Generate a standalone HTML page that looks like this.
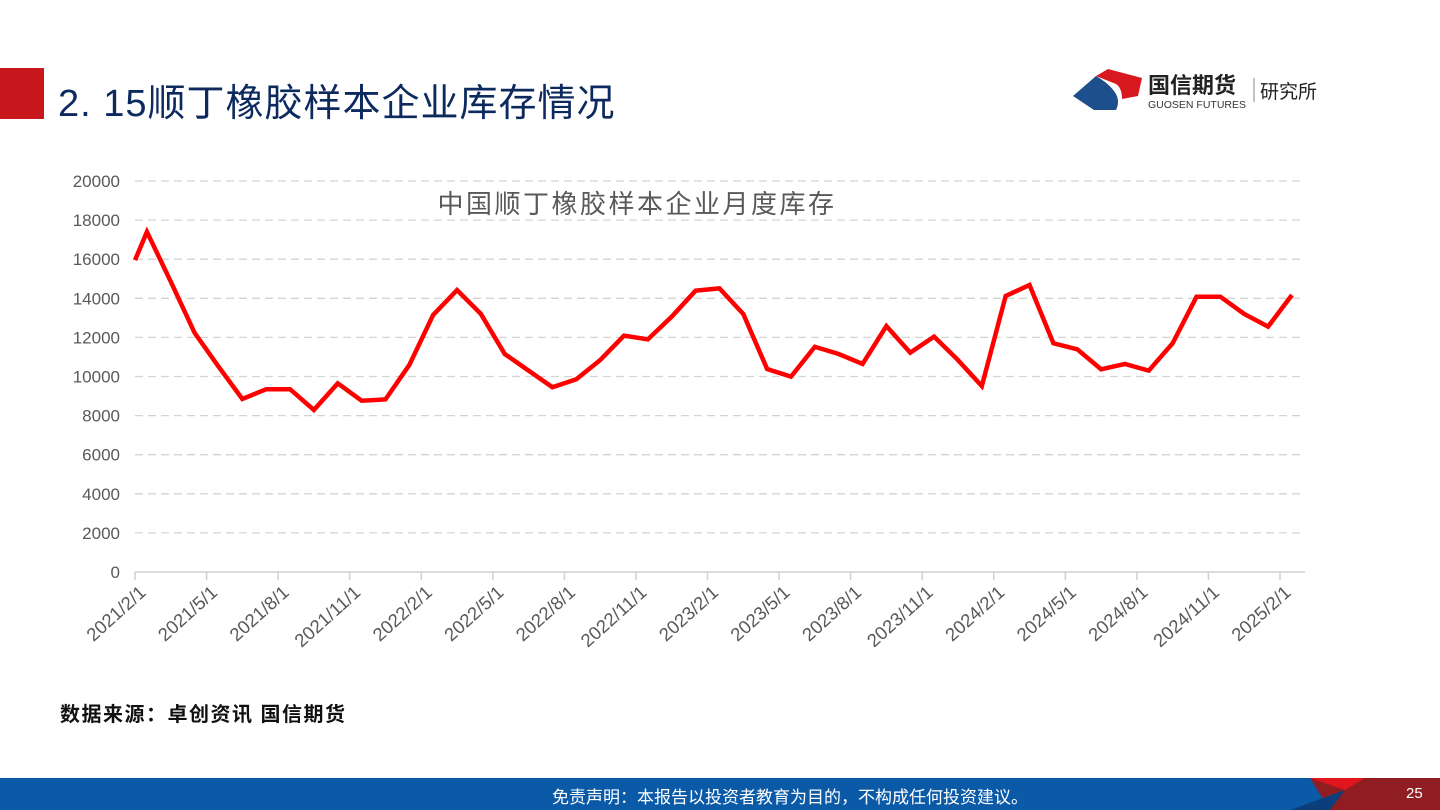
<!DOCTYPE html>
<html><head><meta charset="utf-8">
<style>
body{margin:0;width:1440px;height:810px;overflow:hidden;background:#fff;font-family:"Liberation Sans","Noto Sans CJK SC",sans-serif;position:relative}
.abs{position:absolute}
</style></head><body>
<div class="abs" style="left:0;top:68px;width:44px;height:51px;background:#c8161d"></div>
<div class="abs" style="left:58px;top:72px;font-size:38px;letter-spacing:1px;color:#0d2a5e;white-space:nowrap">2. 15顺丁橡胶样本企业库存情况</div>
<svg class="abs" style="left:1070px;top:66px" width="300" height="50">
<path d="M3,30 L26,10 Q40,18 46,28 Q50,36 46,44 L24,44 Z" fill="#1d4f8c"/>
<path d="M26,10 L38,3 L72,12 L68,30 L52,33 Q52,22 46,18 Z" fill="#d7191f"/>
<text x="78" y="27" font-size="22" font-weight="bold" fill="#222" font-family="Liberation Sans,Noto Sans CJK SC,sans-serif">国信期货</text>
<text x="78" y="42" font-size="10.5" fill="#333" font-family="Liberation Sans,sans-serif">GUOSEN FUTURES</text>
<line x1="184" y1="12" x2="184" y2="36" stroke="#888"/>
<text x="190" y="32" font-size="19" fill="#222" font-family="Liberation Sans,Noto Sans CJK SC,sans-serif">研究所</text>
</svg>
<svg class="abs" id="chart" style="left:0;top:0" width="1440" height="700"></svg>
<div class="abs" style="left:60px;top:698px;font-size:20px;font-weight:bold;letter-spacing:1.5px;color:#111;white-space:nowrap">数据来源：卓创资讯 国信期货</div>
<div class="abs" style="left:0;top:778px;width:1440px;height:32px;background:#0b5aa8;overflow:hidden">
<svg class="abs" style="left:0;top:0" width="1440" height="32">
<polygon points="1310,0 1440,0 1440,32 1330,32" fill="#8f1d22"/>
<polygon points="1310,0 1365,0 1345,12" fill="#e0151e"/>
<polygon points="1345,12 1330,32 1290,32" fill="#0a3f7c"/>
</svg>
<div class="abs" style="left:0;width:1580px;top:5px;text-align:center;font-size:17px;color:#fff">免责声明：本报告以投资者教育为目的，不构成任何投资建议。</div>
<div class="abs" style="left:1406px;top:7px;font-size:15px;color:#fff">25</div>
</div>
<script>
const monthOffsets=[0,0.5,1.5,2.5,3.5,4.5,5.5,6.5,7.5,8.5,9.5,10.5,11.5,12.5,13.5,14.5,15.5,16.5,17.5,18.5,19.5,20.5,21.5,22.5,23.5,24.5,25.5,26.5,27.5,28.5,29.5,30.5,31.5,32.5,33.5,34.5,35.5,36.5,37.5,38.5,39.5,40.5,41.5,42.5,43.5,44.5,45.5,46.5,47.5,48.5];
const inventory=[15950,17400,14850,12230,10510,8850,9350,9350,8290,9650,8760,8830,10590,13150,14420,13200,11150,10300,9450,9860,10840,12090,11900,13060,14390,14510,13200,10380,9990,11520,11150,10640,12580,11220,12040,10840,9510,14120,14680,11700,11390,10370,10640,10300,11700,14080,14080,13200,12550,14170];
const yTicks=[0,2000,4000,6000,8000,10000,12000,14000,16000,18000,20000];
const xTickLabels=["2021/2/1","2021/5/1","2021/8/1","2021/11/1","2022/2/1","2022/5/1","2022/8/1","2022/11/1","2023/2/1","2023/5/1","2023/8/1","2023/11/1","2024/2/1","2024/5/1","2024/8/1","2024/11/1","2025/2/1"];
const xTickMonths=[0,3,6,9,12,15,18,21,24,27,30,33,36,39,42,45,48];
const svg=document.getElementById('chart');const NS='http://www.w3.org/2000/svg';
const x=m=>135+m*(1280-135)/48;
const y=v=>572-v*(572-181)/20000;
function mk(t,a){const e=document.createElementNS(NS,t);for(const k in a)e.setAttribute(k,a[k]);svg.appendChild(e);return e;}
yTicks.forEach(v=>{
 if(v>0){const g=mk('line',{x1:135,x2:1305,y1:y(v),y2:y(v),stroke:'#d4d4d4','stroke-width':1.3,'stroke-dasharray':'8,5'});
 
 }
 const t=mk('text',{x:120,y:y(v)+6,'text-anchor':'end','font-size':17,fill:'#595959'});t.textContent=v;
 
 
});
const ax=mk('line',{x1:135,x2:1305,y1:572,y2:572,stroke:'#d0d0d0','stroke-width':1.5});


xTickMonths.forEach((m,i)=>{
 const tk=mk('line',{x1:x(m),x2:x(m),y1:572,y2:580,stroke:'#d0d0d0','stroke-width':1.5});
 
 
 const ax_=x(m)+12,ay_=594;
 const t=mk('text',{x:ax_,y:ay_,'text-anchor':'end','font-size':18.5,fill:'#595959',transform:`rotate(-42 ${ax_} ${ay_})`});
 t.textContent=xTickLabels[i];
 
 
});
const title=mk('text',{x:637,y:213,'text-anchor':'middle','font-size':26,fill:'#595959','letter-spacing':'2.5'});
title.textContent='中国顺丁橡胶样本企业月度库存';


const pts=monthOffsets.map((m,i)=>x(m)+','+y(inventory[i])).join(' ');
const line=mk('polyline',{points:pts,fill:'none',stroke:'#ff0000','stroke-width':4.5,'stroke-linejoin':'miter'});


</script>
</body></html>
